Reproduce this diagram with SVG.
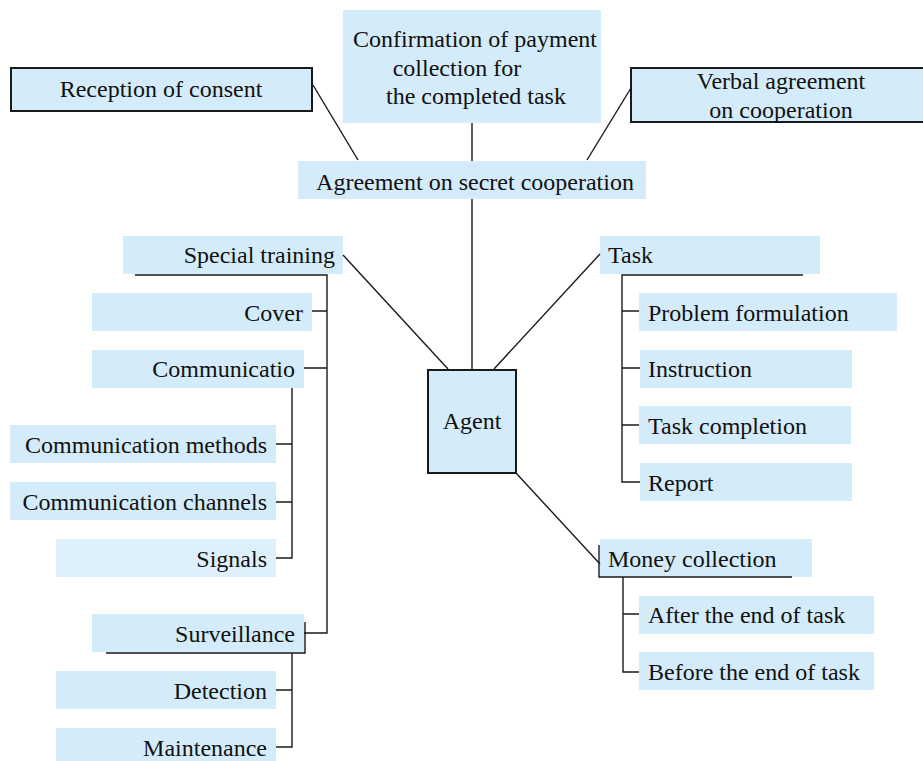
<svg xmlns="http://www.w3.org/2000/svg" width="923" height="761" viewBox="0 0 923 761">
<style>
.b{fill:#d4ebfa}
.bl{fill:#def0fc}
.k{fill:#d4ebfa;stroke:#1a1a1a;stroke-width:2}
text{font-family:"Liberation Serif","Times New Roman",serif;font-size:24px;fill:#111}
.m{text-anchor:middle}
.r{text-anchor:end}
.c line,.c path{stroke:#1a1a1a;stroke-width:1.4;fill:none}
</style>
<rect width="923" height="761" fill="#fff"/>
<g id="reception"><rect class="k" x="11" y="68" width="301" height="43"/><text class="m" x="161" y="97">Reception of consent</text></g>
<g id="confirmation"><rect class="b" x="343" y="10" width="258" height="113"/><text class="m" x="475" y="47">Confirmation of payment</text><text class="m" x="457" y="76">collection for</text><text class="m" x="476" y="104">the completed task</text></g>
<g id="verbal"><rect class="k" x="631" y="68" width="300" height="54"/><text class="m" x="781" y="89">Verbal agreement</text><text class="m" x="781" y="118">on cooperation</text></g>
<g id="agreement"><rect class="b" x="298" y="161" width="348" height="38"/><text class="m" x="475" y="190">Agreement on secret cooperation</text></g>
<g id="agent"><rect class="k" x="428" y="370" width="88" height="103"/><text class="m" x="472" y="429">Agent</text></g>
<g id="special"><rect class="b" x="123" y="236" width="220" height="38"/><text class="r" x="335" y="263">Special training</text></g>
<g id="cover"><rect class="b" x="92" y="293" width="220" height="38"/><text class="r" x="303" y="321">Cover</text></g>
<g id="communicatio"><rect class="b" x="92" y="350" width="212" height="38"/><text class="r" x="295" y="377">Communicatio</text></g>
<g id="methods"><rect class="b" x="10" y="425" width="266" height="38"/><text class="r" x="267" y="453">Communication methods</text></g>
<g id="channels"><rect class="b" x="10" y="482" width="266" height="38"/><text class="r" x="267" y="510">Communication channels</text></g>
<g id="signals"><rect class="bl" x="56" y="539" width="220" height="38"/><text class="r" x="267" y="567">Signals</text></g>
<g id="surveillance"><rect class="b" x="92" y="614" width="212" height="38"/><text class="r" x="295" y="642">Surveillance</text></g>
<g id="detection"><rect class="b" x="56" y="671" width="220" height="38"/><text class="r" x="267" y="699">Detection</text></g>
<g id="maintenance"><rect class="b" x="56" y="728" width="220" height="38"/><text class="r" x="267" y="756">Maintenance</text></g>
<g id="task"><rect class="b" x="600" y="236" width="220" height="38"/><text x="608" y="263">Task</text></g>
<g id="problem"><rect class="b" x="639" y="293" width="258" height="38"/><text x="648" y="321">Problem formulation</text></g>
<g id="instruction"><rect class="b" x="640" y="350" width="212" height="38"/><text x="648" y="377">Instruction</text></g>
<g id="completion"><rect class="b" x="639" y="406" width="212" height="38"/><text x="648" y="434">Task completion</text></g>
<g id="report"><rect class="b" x="640" y="463" width="212" height="38"/><text x="648" y="491">Report</text></g>
<g id="money"><rect class="b" x="600" y="539" width="212" height="38"/><text x="608" y="567">Money collection</text></g>
<g id="after"><rect class="b" x="639" y="596" width="235" height="38"/><text x="648" y="623">After the end of task</text></g>
<g id="before"><rect class="b" x="639" y="652" width="235" height="38"/><text x="648" y="680">Before the end of task</text></g>
<g class="c" id="connectors">
<line x1="313" y1="85" x2="358" y2="160"/>
<line x1="587" y1="160" x2="631" y2="88"/>
<line x1="472" y1="123" x2="472" y2="161"/>
<line x1="472" y1="199" x2="472" y2="370"/>
<line x1="343" y1="255" x2="448" y2="369"/>
<line x1="600" y1="254" x2="494" y2="369"/>
<line x1="516" y1="473" x2="600" y2="564"/>
<path d="M135 275H327V633H304M312 311H327M304 368H327"/>
<path d="M292 388V558H276M276 444H292M276 502H292"/>
<path d="M106 653H305V622"/>
<path d="M292 653V747H276M276 690H292"/>
<path d="M803 275H622V482H640M622 311H639M622 368H640M622 425H639"/>
<path d="M599 545V577H792M623 577V672H639M623 614H639"/>
</g>
</svg>
